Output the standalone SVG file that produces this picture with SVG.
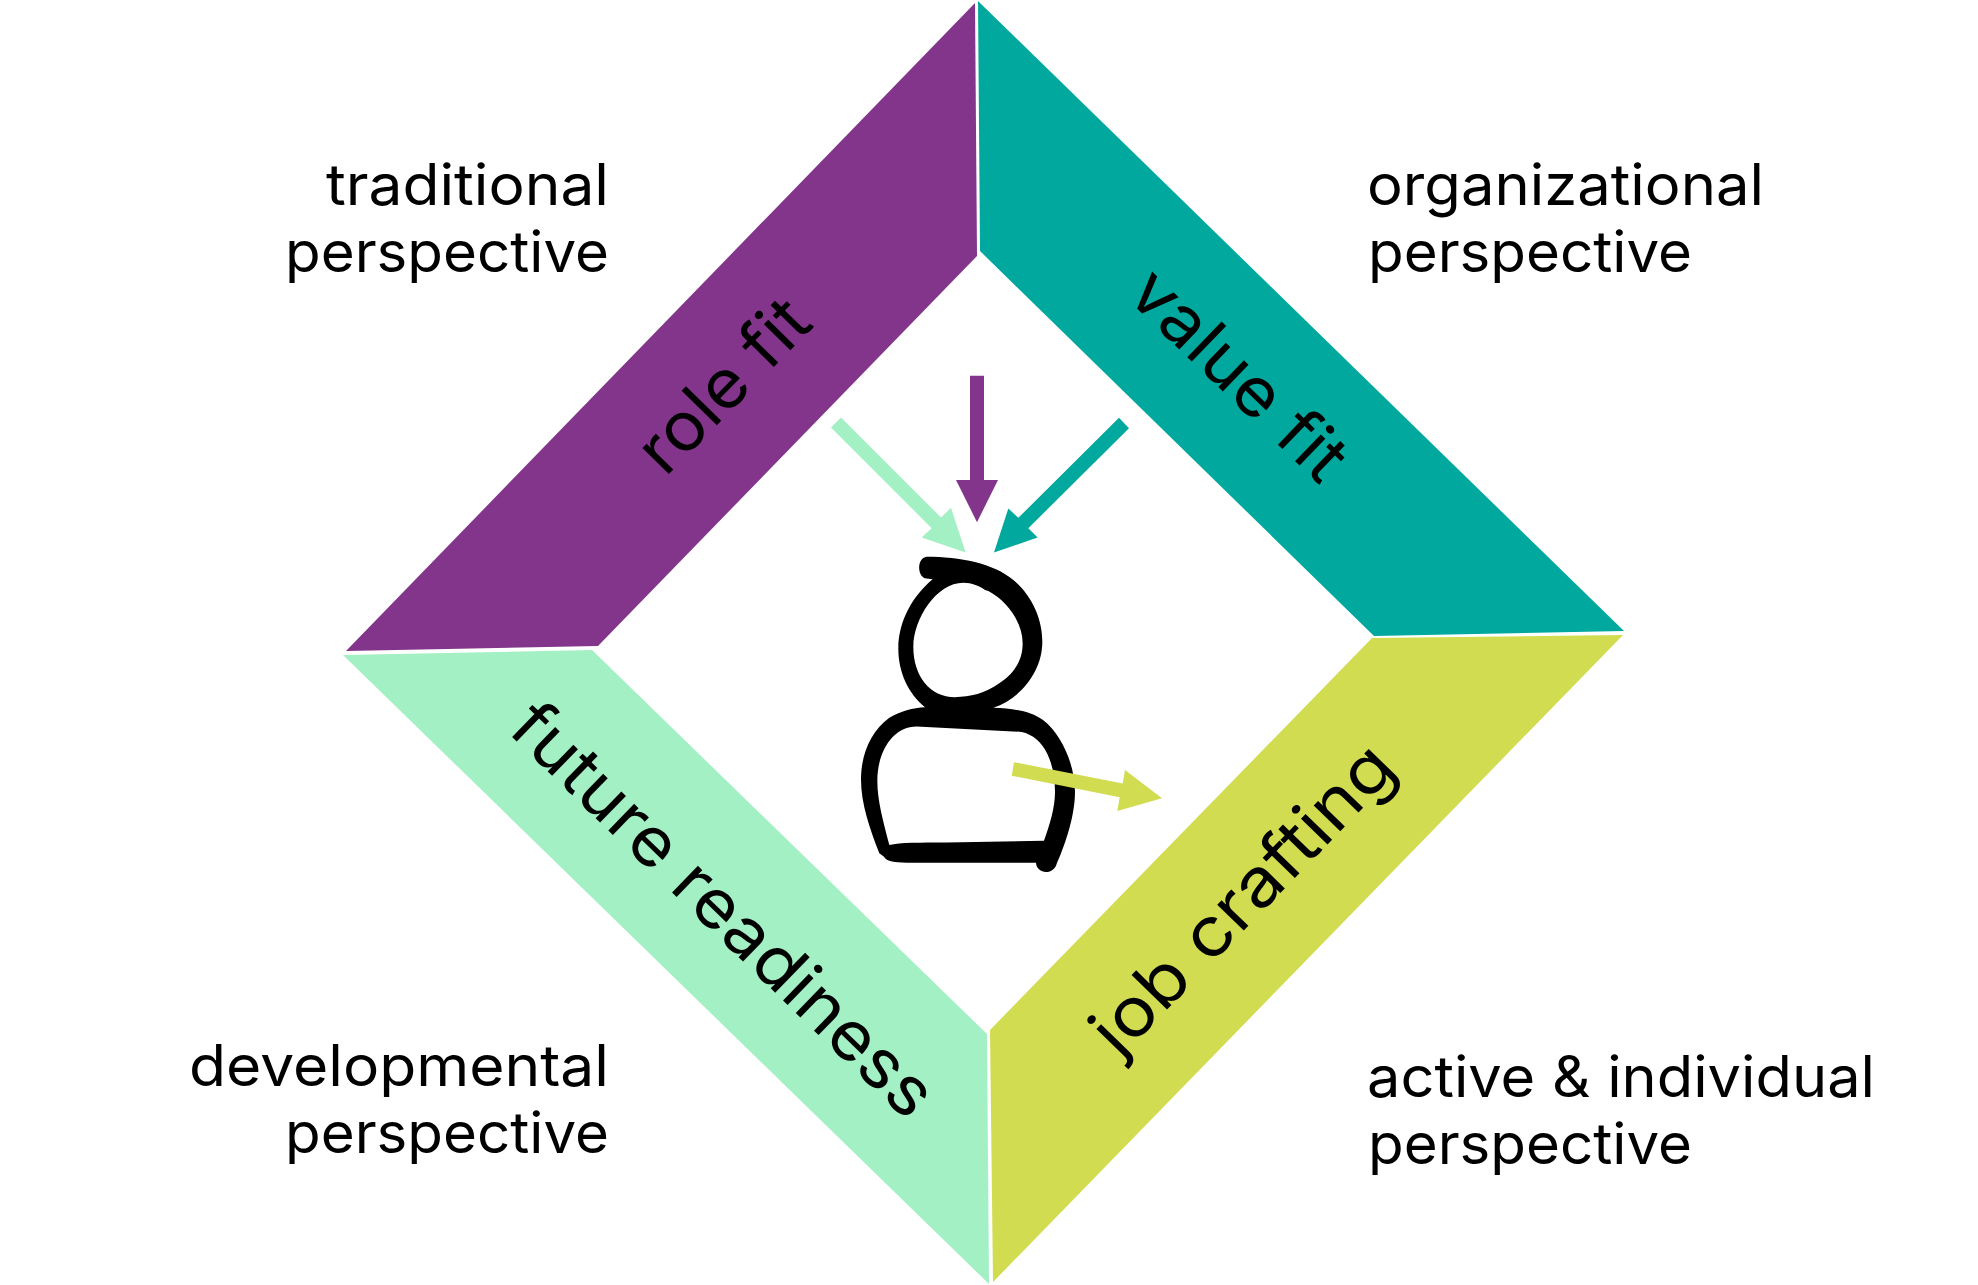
<svg xmlns="http://www.w3.org/2000/svg" width="1978" height="1285" viewBox="0 0 1978 1285">
<style>
text{font-family:"Inter","Noto Sans",sans-serif;fill:#000}
.cap{font-size:57px}
.band{font-size:68px}
</style>
<rect width="1978" height="1285" fill="#fff"/>
<g id="role-fit"><polygon points="975,3 977,256 598,646 346,651" fill="#82358a"/><text class="band" transform="translate(665 478) rotate(-45.5)" textLength="214" lengthAdjust="spacingAndGlyphs">role fit</text></g>
<g id="value-fit"><polygon points="978,1 980,251 1374,636 1624,631" fill="#01a89d"/><text class="band" transform="translate(1125 297) rotate(44)" textLength="272" lengthAdjust="spacingAndGlyphs">value fit</text></g>
<g id="future-readiness"><polygon points="343,655 592,650 987,1034 989,1284" fill="#a3f0c4"/><text class="band" transform="translate(506 731) rotate(44.2)" textLength="561" lengthAdjust="spacingAndGlyphs">future readiness</text></g>
<g id="job-crafting"><polygon points="1372,638 1623,635 993,1282 990,1030" fill="#d1dc50"/><text class="band" transform="translate(1119 1059) rotate(-45.8)" textLength="402" lengthAdjust="spacingAndGlyphs">job crafting</text></g>
<g id="person" transform="translate(780 340) scale(.33333 .35714)"><path fill-rule="evenodd" fill="#000" d="M440 607C540 607 640 625 700 672C755 715 787 780 787 845C787 930 720 1005 640 1030C700 1032 750 1038 790 1065C845 1105 885 1190 885 1265C885 1340 850 1425 828 1472C815 1498 770 1495 768 1464L400 1464C350 1464 320 1462 312 1447L298 1437C270 1370 243 1300 243 1230C243 1160 273 1095 328 1058C360 1038 400 1030 435 1028C385 990 355 930 355 865C355 785 400 715 458 670L440 668C410 665 410 610 440 607Z M550 680C575 680 600 690 615 700L625 703C680 730 728 790 728 850C728 900 700 935 660 960C615 990 570 1000 525 1000C450 1000 400 940 400 860C400 780 470 680 550 680Z M410 1082L720 1097C790 1107 825 1180 825 1265C825 1310 810 1355 792 1402L500 1407C420 1407 360 1407 328 1414C310 1350 292 1290 292 1235C292 1150 340 1082 410 1082Z"/></g>
<g id="connectors" transform="translate(780 340) scale(.33333 .35714)">
<polygon points="183,217 483,497 513,470 557,595 425,553 455,527 153,245" fill="#a3f0c4"/>
<polygon points="570,100 612,100 612,392 654,392 591,510 528,392 570,392" fill="#82358a"/>
<polygon points="1017,218 1047,247 745,527 773,553 642,595 685,472 715,498" fill="#01a89d"/>
<polygon points="702,1182 1028,1242 1035,1204 1146,1283 1012,1319 1019,1280 695,1220" fill="#d1dc50"/>
</g>
<g id="label-traditional"><text class="cap" x="326" y="205" textLength="283" lengthAdjust="spacingAndGlyphs">traditional</text><text class="cap" x="285" y="271.5" textLength="324" lengthAdjust="spacingAndGlyphs">perspective</text></g>
<g id="label-organizational"><text class="cap" x="1367" y="205" textLength="397" lengthAdjust="spacingAndGlyphs">organizational</text><text class="cap" x="1368" y="271.5" textLength="324" lengthAdjust="spacingAndGlyphs">perspective</text></g>
<g id="label-developmental"><text class="cap" x="189" y="1086" textLength="420" lengthAdjust="spacingAndGlyphs">developmental</text><text class="cap" x="285" y="1152.5" textLength="324" lengthAdjust="spacingAndGlyphs">perspective</text></g>
<g id="label-active"><text class="cap" x="1367" y="1097" textLength="508" lengthAdjust="spacingAndGlyphs">active &amp; individual</text><text class="cap" x="1368" y="1163.5" textLength="324" lengthAdjust="spacingAndGlyphs">perspective</text></g>
</svg>
